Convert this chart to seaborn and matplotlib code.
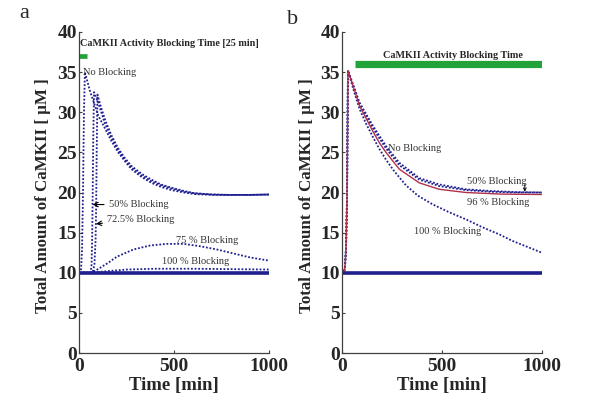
import matplotlib
matplotlib.use("Agg")
import matplotlib.pyplot as plt
import seaborn as sns

# ── Panel a data (time in min, CaMKII in uM) ────────────────────────────────
t_none_a = [0, 5, 10, 15, 20, 25, 30, 56, 100, 135, 170, 205, 240, 275, 330, 380, 430, 485, 550, 608, 700, 784, 900, 1000]
v_none_a = [10, 10, 10.5, 13, 20, 30, 35, 32.7, 29.6, 28.0, 26.4, 25.0, 23.9, 22.9, 21.9, 21.2, 20.7, 20.3, 20.0, 19.8, 19.7, 19.7, 19.7, 19.75]

t_50_a = [0, 60, 65, 68, 71, 74, 78, 100, 135, 170, 205, 240, 275, 330, 380, 430, 485, 550, 608, 700, 784, 900, 1000]
v_50_a = [10, 10, 11, 14, 20, 27, 32.5, 31.2, 28.6, 26.8, 25.3, 24.1, 23.1, 22.1, 21.4, 20.9, 20.5, 20.1, 19.9, 19.75, 19.7, 19.7, 19.75]

t_725_a = [0, 70, 80, 86, 89, 92, 96, 115, 140, 170, 205, 240, 275, 330, 380, 430, 485, 550, 608, 700, 784, 900, 1000]
v_725_a = [10, 10, 11, 14, 18, 25, 32.2, 30.6, 28.8, 27.1, 25.5, 24.3, 23.3, 22.3, 21.6, 21.0, 20.6, 20.2, 19.9, 19.75, 19.7, 19.7, 19.75]

t_75_a = [0, 58, 95, 150, 198, 285, 374, 461, 548, 637, 724, 811, 900, 1000]
v_75_a = [10, 10, 10.4, 11.2, 12.0, 12.9, 13.4, 13.6, 13.6, 13.3, 12.9, 12.4, 11.9, 11.5]

t_100_a = [0, 60, 150, 250, 400, 600, 800, 1000]
v_100_a = [10, 10, 10.2, 10.4, 10.5, 10.5, 10.45, 10.4]

t_base = [0, 1000]
v_base = [10, 10]

block_a_t = [0, 42]
block_a_v = [37, 37]

# ── Panel b data ────────────────────────────────────────────────────────────
t_rise_b = [0, 10, 15, 20, 25, 28, 30]
v_rise_b = [10, 10, 10.8, 13, 19, 29, 35.2]

t_none_b = t_rise_b + [88, 155, 220, 287, 387, 487, 620, 737, 870, 1000]
v_none_b = v_rise_b + [31.2, 28.3, 25.8, 23.7, 21.8, 21.0, 20.4, 20.2, 20.05, 20.0]

t_50_b = t_rise_b + [88, 155, 220, 287, 387, 487, 620, 737, 870, 1000]
v_50_b = v_rise_b + [31.0, 28.0, 25.5, 23.4, 21.6, 20.8, 20.3, 20.1, 20.0, 20.0]

t_96_b = t_rise_b + [88, 155, 187, 220, 287, 387, 487, 620, 800, 1000]
v_96_b = v_rise_b + [30.8, 27.6, 26.2, 25.0, 22.9, 21.2, 20.4, 20.0, 19.8, 19.75]

t_100_b = t_rise_b + [60, 88, 120, 153, 185, 220, 260, 320, 380, 455, 540, 625, 700, 790, 850, 920, 1000]
v_100_b = v_rise_b + [32.6, 30.4, 28.6, 27.0, 25.5, 24.1, 22.7, 20.9, 19.6, 18.5, 17.5, 16.6, 15.7, 14.75, 14.0, 13.3, 12.5]

block_b_t = [65, 1000]
block_b_v = [36, 36]

# ── Style ───────────────────────────────────────────────────────────────────
sns.set_style("ticks")
plt.rcParams["font.family"] = ["Liberation Serif", "DejaVu Serif"]

BLUE = "#1f1f8f"
RED = "#b0304a"
GREEN = "#22a33a"
DOT = (0, (1, 1))
TXT = "#333333"

fig = plt.figure(figsize=(6, 4), dpi=100)
ax_a = fig.add_axes([0.132, 0.1175, 0.317, 0.8025])
ax_b = fig.add_axes([0.570, 0.1175, 0.333, 0.8025])


def style_axes(ax, ylab_x):
    ax.set_xlim(0, 1000)
    ax.set_ylim(0, 40)
    ax.set_xticks([0, 500, 1000])
    ax.set_yticks(range(0, 41, 5))
    sns.despine(ax=ax)
    for s in ["left", "bottom"]:
        ax.spines[s].set_color("#404040")
        ax.spines[s].set_linewidth(0.9)
    ax.tick_params(direction="in", length=2.5, width=0.8, color="#404040",
                   labelsize=14, pad=1.5)
    ax.tick_params(axis="x", pad=3.5)
    for lab in ax.get_xticklabels() + ax.get_yticklabels():
        lab.set_fontweight("bold")
    ax.set_xlabel("Time [min]", fontsize=13.5, fontweight="bold")
    ax.set_ylabel("Total Amount of CaMKII [ μM ]", fontsize=12.2, fontweight="bold")
    ax.xaxis.set_label_coords(0.5, -0.075)
    ax.yaxis.set_label_coords(ylab_x, 0.49)


ARROW = dict(arrowstyle="->", color="black", lw=0.8, mutation_scale=8,
             shrinkA=1, shrinkB=0)

# ── Panel a ─────────────────────────────────────────────────────────────────
for t, v in [(t_none_a, v_none_a), (t_50_a, v_50_a), (t_725_a, v_725_a),
             (t_75_a, v_75_a), (t_100_a, v_100_a)]:
    sns.lineplot(x=t, y=v, ax=ax_a, color=BLUE, lw=1.3, linestyle=DOT)
sns.lineplot(x=t_base, y=v_base, ax=ax_a, color=BLUE, lw=2.6)
sns.lineplot(x=block_a_t, y=block_a_v, ax=ax_a, color=GREEN, lw=3.4,
             solid_capstyle="butt")
style_axes(ax_a, -0.15)

ax_a.text(2, 38.6, "CaMKII Activity Blocking Time [25 min]", fontsize=7.3,
          fontweight="bold", va="center", ha="left")
ax_a.text(22, 35, "No Blocking", fontsize=7.5, color=TXT, va="center")
ax_a.annotate("50% Blocking", xy=(70, 18.5), xytext=(155, 18.5), fontsize=7.5,
              color=TXT, va="center", arrowprops=ARROW)
ax_a.annotate("72.5% Blocking", xy=(88, 16.1), xytext=(147, 16.6), fontsize=7.5,
              color=TXT, va="center", arrowprops=ARROW)
ax_a.text(510, 14.0, "75 % Blocking", fontsize=7.5, color=TXT, va="center")
ax_a.text(437, 11.4, "100 % Blocking", fontsize=7.5, color=TXT, va="center")

# ── Panel b ─────────────────────────────────────────────────────────────────
for t, v in [(t_none_b, v_none_b), (t_50_b, v_50_b), (t_100_b, v_100_b)]:
    sns.lineplot(x=t, y=v, ax=ax_b, color=BLUE, lw=1.3, linestyle=DOT)
sns.lineplot(x=t_96_b, y=v_96_b, ax=ax_b, color=RED, lw=1.0)
sns.lineplot(x=t_base, y=v_base, ax=ax_b, color=BLUE, lw=2.6)
sns.lineplot(x=block_b_t, y=block_b_v, ax=ax_b, color=GREEN, lw=5.2,
             solid_capstyle="butt")
style_axes(ax_b, -0.135)

ax_b.text(555, 37.1, "CaMKII Activity Blocking Time", fontsize=7.3,
          fontweight="bold", va="center", ha="center")
ax_b.text(228, 25.5, "No Blocking", fontsize=7.5, color=TXT, va="center")
ax_b.text(627, 21.4, "50% Blocking", fontsize=7.5, color=TXT, va="center")
ax_b.annotate("", xy=(915, 20.1), xytext=(915, 21.0),
              arrowprops=dict(arrowstyle="->", color="black", lw=0.7,
                              mutation_scale=5, shrinkA=0, shrinkB=0))
ax_b.text(627, 18.75, "96 % Blocking", fontsize=7.5, color=TXT, va="center")
ax_b.text(360, 15.1, "100 % Blocking", fontsize=7.5, color=TXT, va="center")

# panel letters
fig.text(0.04, 0.955, "a", fontsize=16, ha="center", va="baseline")
fig.text(0.487, 0.94, "b", fontsize=16, ha="center", va="baseline")

fig.savefig("out.png", dpi=100)
